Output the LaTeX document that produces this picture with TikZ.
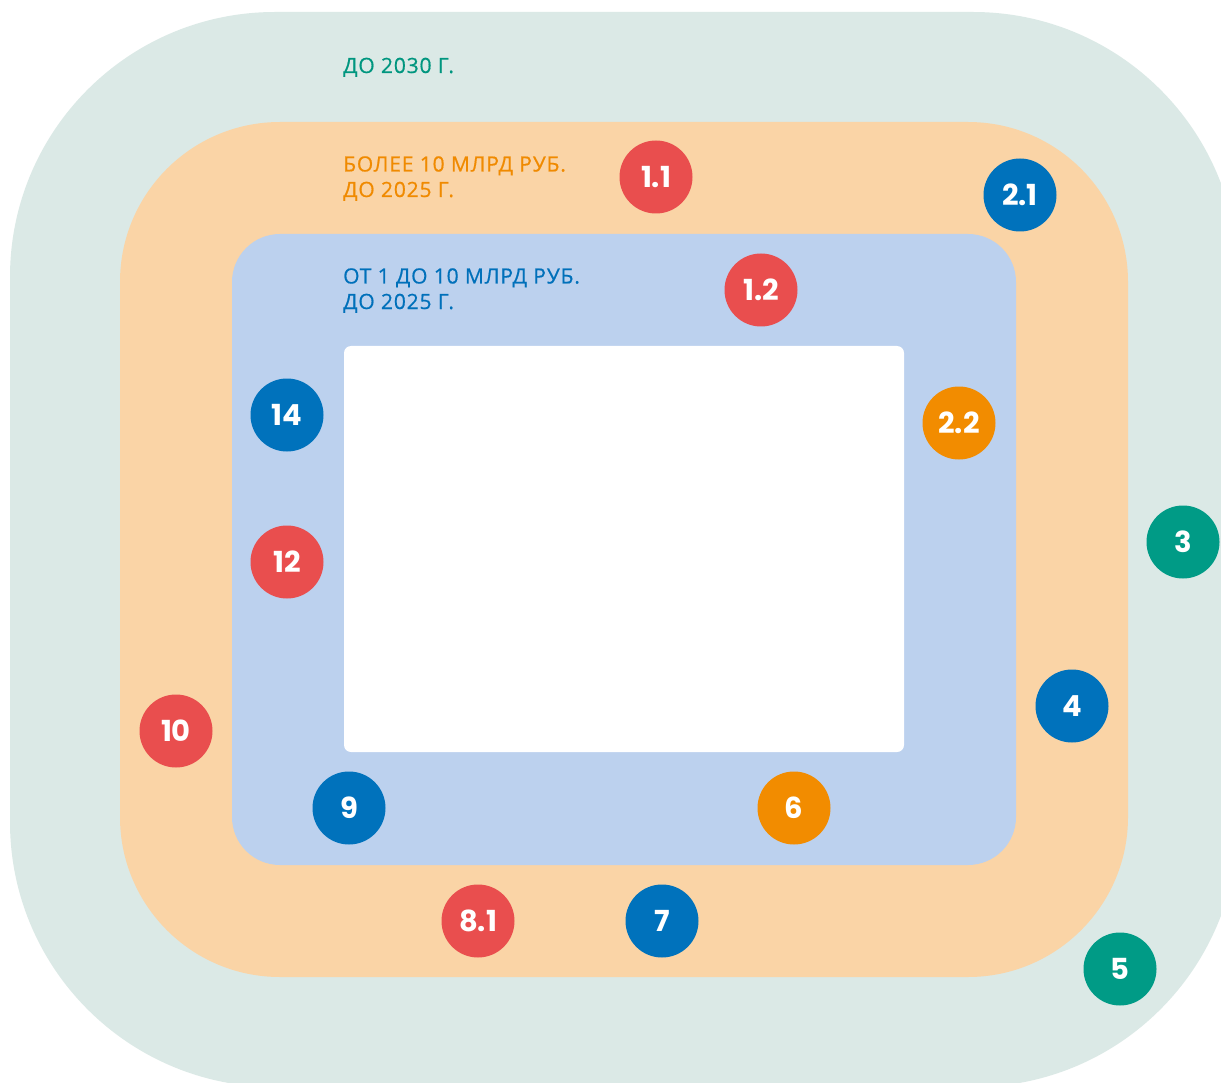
\documentclass[tikz,border=0pt]{standalone}
\usepackage{fontspec}
\setmainfont{Open Sans}[LetterSpace=4, FakeBold=0.6]
\newfontfamily\numfont{Poppins}
\definecolor{zoneA}{HTML}{DBE9E6}
\definecolor{zoneB}{HTML}{FAD4A6}
\definecolor{zoneC}{HTML}{BCD1EE}
\definecolor{cred}{HTML}{E94E4E}
\definecolor{cblue}{HTML}{0072BC}
\definecolor{corange}{HTML}{F28C00}
\definecolor{cteal}{HTML}{009B86}
\definecolor{tteal}{HTML}{00967F}
\definecolor{torange}{HTML}{F08A00}
\definecolor{tblue}{HTML}{0070BA}
\tikzset{
  badge/.style={circle, minimum size=73pt, inner sep=0pt, text=white,
    font=\numfont\bfseries\fontsize{29}{31}\selectfont},
  rb/.style={badge, fill=cred},
  bb/.style={badge, fill=cblue},
  ob/.style={badge, fill=corange},
  tb/.style={badge, fill=cteal},
  zlabel/.style={anchor=base west, inner sep=0pt, align=left,
    font=\fontsize{21}{25.5}\selectfont}
}
\begin{document}
\begin{tikzpicture}[x=1pt,y=-1pt]
\useasboundingbox (0,0) rectangle (1221,1083);
\clip (0,0) rectangle (1221,1083);
\fill[white] (0,0) rectangle (1221,1083);
\fill[zoneA, rounded corners=265pt] (10,12) rectangle (1238,1087);
\fill[zoneB, rounded corners=160pt] (120,122) rectangle (1128,977);
\fill[zoneC, rounded corners=48pt] (232,234) rectangle (1016,865);
\fill[white, rounded corners=7pt] (344,346) rectangle (904,752);

\node[zlabel, text=tteal] (lA) at (343,73) {ДО 2030 Г.};
\node[zlabel, text=torange] (lB) at (343,197) {БОЛЕЕ 10 МЛРД РУБ.\\ДО 2025 Г.};
\node[zlabel, text=tblue] (lC) at (343,309) {ОТ 1 ДО 10 МЛРД РУБ.\\ДО 2025 Г.};

\node[rb] (n11) at (656,177) {1.1};
\node[bb] (n21) at (1020,195) {2.1};
\node[rb] (n12) at (761,290) {1.2};
\node[bb] (n14) at (287,415) {14};
\node[ob] (n22) at (959,423) {2.2};
\node[tb] (n3) at (1183,542) {3};
\node[rb] (n12b) at (287,562) {12};
\node[bb] (n4) at (1072,706) {4};
\node[rb] (n10) at (176,731) {10};
\node[bb] (n9) at (349,808) {9};
\node[ob] (n6) at (794,808) {6};
\node[rb] (n81) at (478,921) {8.1};
\node[bb] (n7) at (662,921) {7};
\node[tb] (n5) at (1120,969) {5};
\end{tikzpicture}
\end{document}
